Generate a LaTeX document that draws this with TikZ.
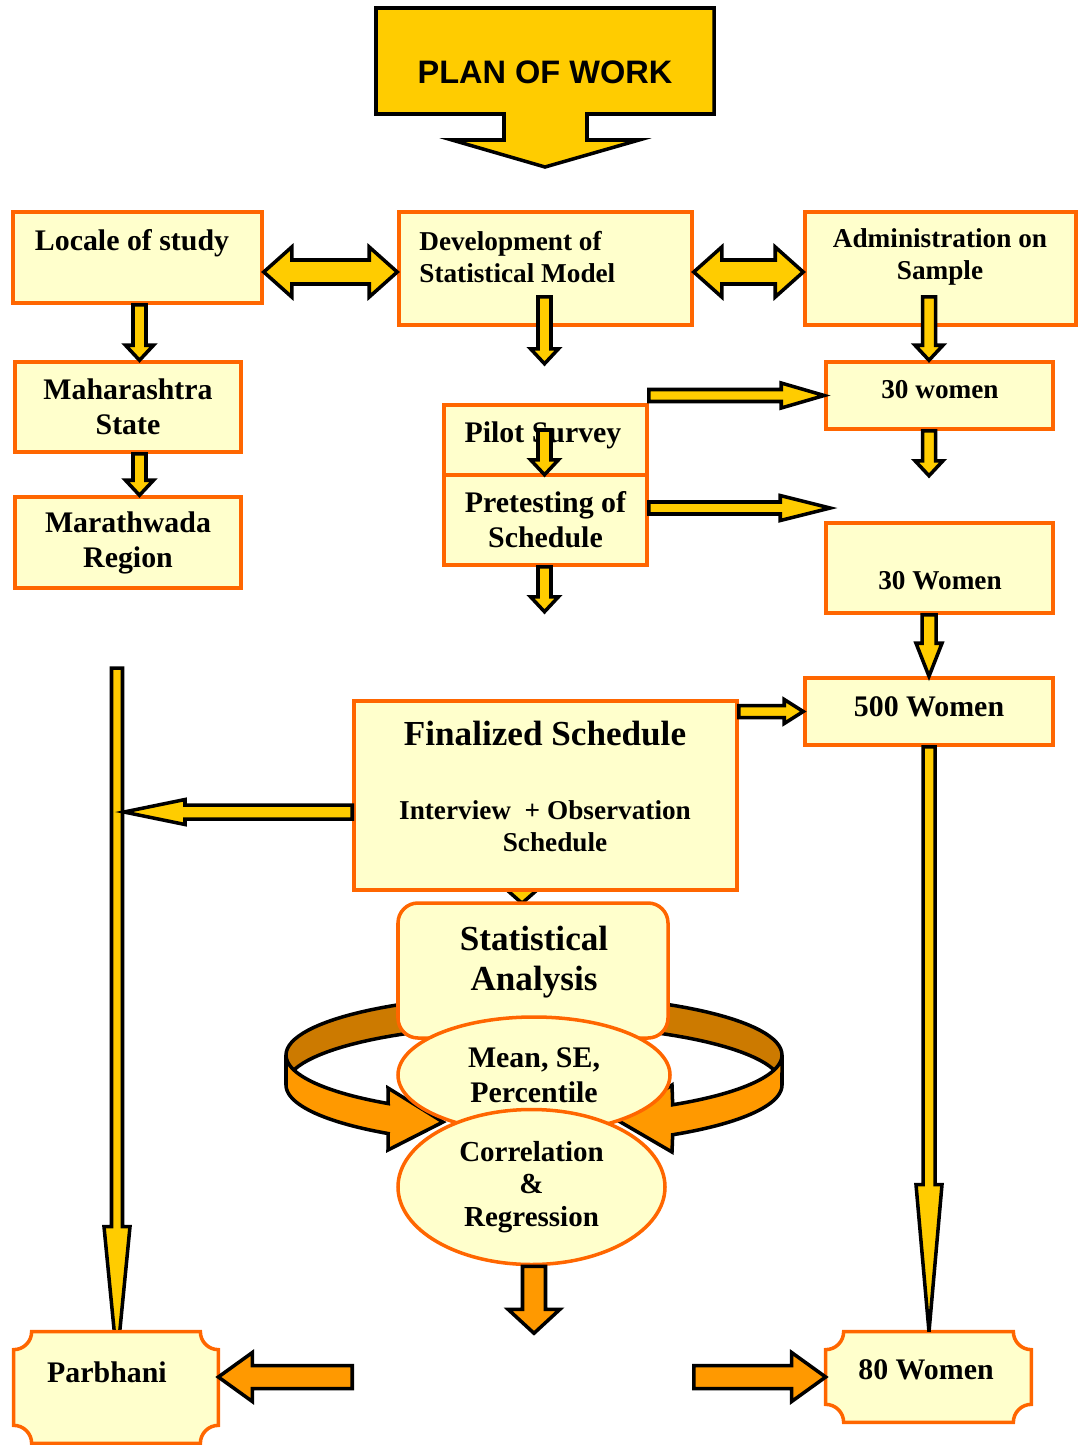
\documentclass[tikz,border=0pt]{standalone}
\usepackage{fontspec}
\setmainfont{Liberation Serif}
\newfontfamily\plansans{Liberation Sans}
\usetikzlibrary{calc,shapes.geometric}
\definecolor{boxfill}{HTML}{FFFFCC}
\definecolor{boxline}{HTML}{FF6600}
\definecolor{gold}{HTML}{FFCC00}
\definecolor{amber}{HTML}{FF9900}
\definecolor{rust}{HTML}{CC7A00}
\pgfdeclarelayer{background}
\pgfsetlayers{background,main}
% block arrow: from, to, shaft half width, head half width, head length
\newcommand{\barrow}[6][]{%
  \coordinate (ba-s) at #2; \coordinate (ba-e) at #3;
  \coordinate (ba-h) at ($(ba-e)!#6!(ba-s)$);
  \draw[blockarrow,#1] ($(ba-s)!#4!90:(ba-e)$) -- ($(ba-h)!#4!90:(ba-e)$) -- ($(ba-h)!#5!90:(ba-e)$) -- (ba-e)
    -- ($(ba-h)!#5!-90:(ba-e)$) -- ($(ba-h)!#4!-90:(ba-e)$) -- ($(ba-s)!#4!-90:(ba-e)$) -- cycle;}
% two-headed block arrow
\newcommand{\dbarrow}[6][]{%
  \coordinate (da-s) at #2; \coordinate (da-e) at #3;
  \coordinate (da-h1) at ($(da-s)!#6!(da-e)$); \coordinate (da-h2) at ($(da-e)!#6!(da-s)$);
  \draw[blockarrow,#1] (da-s) -- ($(da-h1)!#5!90:(da-e)$) -- ($(da-h1)!#4!90:(da-e)$) -- ($(da-h2)!#4!90:(da-e)$)
    -- ($(da-h2)!#5!90:(da-e)$) -- (da-e) -- ($(da-h2)!#5!-90:(da-e)$) -- ($(da-h2)!#4!-90:(da-e)$)
    -- ($(da-h1)!#4!-90:(da-e)$) -- ($(da-h1)!#5!-90:(da-e)$) -- cycle;}
% box with hollow corners round a node
\newcommand{\notchbox}[1]{%
  \draw[flowbox] ($(#1.north west)+(0,18)$) arc[start angle=90,end angle=0,radius=18]
    -- ($(#1.north east)+(-18,0)$) arc[start angle=180,end angle=90,radius=18]
    -- ($(#1.south east)+(0,-18)$) arc[start angle=270,end angle=180,radius=18]
    -- ($(#1.south west)+(18,0)$) arc[start angle=0,end angle=-90,radius=18] -- cycle;}
\begin{document}
\begin{tikzpicture}[x=0.2mm,y=-0.2mm,
  flowbox/.style={draw=boxline,fill=boxfill,line width=2pt,inner sep=0pt,align=center,
    font=\bfseries\fontsize{17}{20}\selectfont},
  txt/.style={inner sep=0pt,align=center,font=\bfseries\fontsize{17}{20}\selectfont},
  smalltxt/.style={font=\bfseries\fontsize{15.5}{18.5}\selectfont},
  bigtxt/.style={font=\bfseries\fontsize{20}{23}\selectfont},
  blockarrow/.style={draw=black,fill=gold,line width=2pt,line join=miter},
  ringback/.style={draw=black,fill=rust,line width=2pt},
  ringfront/.style={draw=black,fill=amber,line width=2pt,line join=miter},
  banner/.style={draw=black,fill=gold,line width=2pt,line join=miter}]
\useasboundingbox (0,0) rectangle (1078,1445);

% title
\draw[banner] (376,8) -- (714,8) -- (714,114) -- (587,114) -- (587,140) -- (639,140) -- (545,167)
  -- (452,140) -- (504,140) -- (504,114) -- (376,114) -- cycle;
\node[inner sep=0pt,font=\plansans\bfseries\fontsize{18.5}{21}\selectfont] (plan) at (545,72) {PLAN OF WORK};

% boxes
\node[flowbox,minimum width=49.8mm,minimum height=18.2mm] (loc) at (137.5,257.5) {};
\node[txt] (loc-txt) at (132,243) {Locale of study};
\node[flowbox,minimum width=58.6mm,minimum height=22.6mm] (dev) at (545.5,268.5) {};
\node[txt,smalltxt,align=left,anchor=west] (dev-txt) at (419,257) {Development of\\Statistical Model};
\node[flowbox,minimum width=54.2mm,minimum height=22.6mm] (adm) at (940.5,268.5) {};
\node[txt,smalltxt] (adm-txt) at (940,257) {Administration on\\Sample};
\node[flowbox,minimum width=45.2mm,minimum height=18mm] (mah) at (128,407) {Maharashtra\\State};
\node[flowbox,minimum width=45.2mm,minimum height=18.2mm] (mar) at (128,542.5) {Marathwada\\Region};
\node[flowbox,minimum width=40.6mm,minimum height=14mm] (pil) at (545.5,440) {};
\node[txt] (pil-txt) at (543,435) {Pilot Survey};
\node[flowbox,minimum width=40.6mm,minimum height=18mm] (pre) at (545.5,520) {Pretesting of\\Schedule};
\node[flowbox,smalltxt,minimum width=45.4mm,minimum height=13.4mm] (w30a) at (939.5,395.5) {};
\node[txt,smalltxt] (w30a-txt) at (940,390) {30 women};
\node[flowbox,minimum width=45.4mm,minimum height=18mm] (w30b) at (939.5,568) {};
\node[txt,smalltxt] (w30b-txt) at (940,581) {30 Women};
\node[flowbox,minimum width=49.6mm,minimum height=13.4mm] (w500) at (929,711.5) {};
\node[txt] (w500-txt) at (929,707) {500 Women};
\node[flowbox,minimum width=76.6mm,minimum height=37.8mm] (fin) at (545.5,795.5) {};
\node[txt,bigtxt] (fin-title) at (545,734) {Finalized Schedule};
\node[txt,smalltxt] (fin-txt) at (545,826) {Interview\ \ + Observation\\\hspace*{4mm}Schedule};

% statistical analysis
\node[flowbox,rounded corners=4mm,minimum width=54mm,minimum height=27mm] (stat) at (533,970.5) {};
\node[txt,bigtxt,font=\bfseries\fontsize{20}{22.5}\selectfont] (stat-txt) at (534,962) {Statistical\\Analysis};
\node[flowbox,ellipse,minimum width=54.4mm,minimum height=23.2mm] (mean) at (534,1075) {Mean, SE,\\Percentile};
\node[flowbox,ellipse,minimum width=53.4mm,minimum height=31mm,
  font=\bfseries\fontsize{16.5}{18.6}\selectfont] (corr) at (531.5,1187) {Correlation\\\&\\Regression};

% outcome boxes
\node[minimum width=40.8mm,minimum height=22.2mm] (parb) at (116,1387.5) {};
\notchbox{parb}
\node[txt] (parb-txt) at (107,1372) {Parbhani};
\node[minimum width=41mm,minimum height=18mm] (w80) at (928.5,1377) {};
\notchbox{w80}
\node[txt] (w80-txt) at (926,1370) {80 Women};

% things that pass under the boxes
\begin{pgfonlayer}{background}
\coordinate (ltop) at (117,668);
\barrow{(ltop)}{($(parb.north)+(1,28)$)}{1.1mm}{2.6mm}{26.6mm}
\barrow{($(stat.north)+(-11,-35)$)}{($(stat.north)+(-11,2)$)}{1.2mm}{3.4mm}{3mm}
\draw[ringback] plot[domain=180:360,samples=60] ({534+248*cos(\x)},{1055+60*sin(\x)})
  -- plot[domain=360:180,samples=60] ({534+248*cos(\x)},{1085+60*sin(\x)}) -- cycle;
\draw[ringfront] plot[domain=180:126,samples=30] ({534+248*cos(\x)},{1055+60*sin(\x)})
  -- (388,1088) -- (443,1122) -- (388,1150)
  -- plot[domain=126:180,samples=30] ({534+248*cos(\x)},{1085+60*sin(\x)}) -- cycle;
\draw[ringfront] plot[domain=0:56,samples=30] ({534+248*cos(\x)},{1055+60*sin(\x)})
  -- (672,1085) -- (617,1120) -- (672,1152)
  -- plot[domain=56:0,samples=30] ({534+248*cos(\x)},{1085+60*sin(\x)}) -- cycle;
\end{pgfonlayer}

% arrows
\dbarrow{($(loc.east)+(0,14.5)$)}{($(dev.west |- loc.east)+(0,14.5)$)}{2.4mm}{5mm}{5.6mm}
\dbarrow{($(dev.east)+(0,3.5)$)}{($(adm.west)+(0,3.5)$)}{2.4mm}{5mm}{5.6mm}
\barrow{($(loc.south)+(2,0)$)}{($(loc.south |- mah.north)+(2,0)$)}{1.3mm}{2.8mm}{3mm}
\barrow{($(loc.south |- mah.south)+(2,0)$)}{($(loc.south |- mar.north)+(2,0)$)}{1.3mm}{2.8mm}{3mm}
\barrow{($(dev.south)+(-1,-30)$)}{($(dev.south)+(-1,37)$)}{1.3mm}{2.8mm}{3mm}
\barrow{($(w500.north |- adm.south)+(0,-30)$)}{(w500.north |- w30a.north)}{1.3mm}{2.8mm}{3mm}
\barrow{(w500.north |- w30a.south)}{($(w500.north |- w30a.south)+(0,45)$)}{1.3mm}{2.8mm}{3mm}
\barrow{($(pil.center)+(-1,-10)$)}{($(pil.south)+(-1,-2)$)}{1.3mm}{2.8mm}{3mm}
\barrow{($(pre.south)+(-1,0)$)}{($(pre.south)+(-1,45)$)}{1.3mm}{2.8mm}{3mm}
\barrow{(pil.east |- w30a.west)}{(w30a.west)}{1.2mm}{2.5mm}{8.6mm}
\barrow{($(pre.east)+(0,-12)$)}{($(w30a.west |- pre.east)+(6,-12)$)}{1.2mm}{2.5mm}{10mm}
\barrow{(w500.north |- w30b.south)}{(w500.north)}{1.4mm}{2.6mm}{6.6mm}
\barrow{(fin.east |- w500.west)}{(w500.west)}{1.2mm}{2.4mm}{3.8mm}
\barrow{($(fin.west)+(0,16.5)$)}{($(ltop |- fin.west)+(7,16.5)$)}{1.4mm}{2.5mm}{12.2mm}
\barrow{(w500.south)}{(w500.south |- w80.north)}{1.2mm}{2.6mm}{29.4mm}
\barrow[fill=amber]{($(corr.south)+(2.5,0)$)}{($(corr.south)+(2.5,67)$)}{2.3mm}{5.2mm}{4.8mm}
\barrow[fill=amber]{(fin.west |- w80.west)}{(parb.east |- w80.west)}{2.3mm}{4.9mm}{6.8mm}
\barrow[fill=amber]{(dev.east |- w80.west)}{(w80.west)}{2.3mm}{4.9mm}{6.8mm}
\end{tikzpicture}
\end{document}
